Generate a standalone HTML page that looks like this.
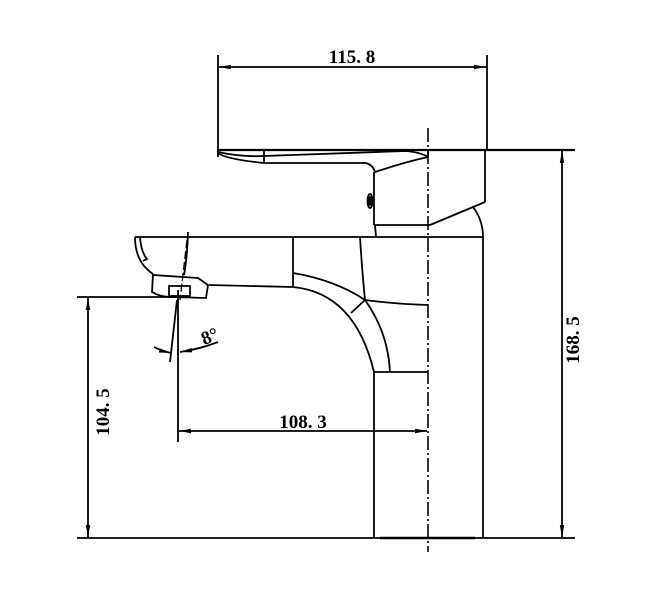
<!DOCTYPE html>
<html><head><meta charset="utf-8"><style>
html,body{margin:0;padding:0;background:#fff;}
svg{display:block;}
text{font-family:"Liberation Serif",serif;font-weight:bold;font-size:19px;fill:#000;}
</style></head><body>
<svg width="665" height="592" viewBox="0 0 665 592" xmlns="http://www.w3.org/2000/svg">
<defs>
<marker id="a" markerWidth="12" markerHeight="6" refX="12" refY="3" orient="auto-start-reverse" markerUnits="userSpaceOnUse">
<path d="M0,0.8 L12,3 L0,5.2 Z" fill="#000"/></marker>
</defs>
<g fill="none" stroke="#000" stroke-width="1.8">
<line x1="218" y1="55" x2="218" y2="157"/>
<line x1="487" y1="55" x2="487" y2="150"/>
<line x1="219" y1="67" x2="486" y2="67" marker-start="url(#a)" marker-end="url(#a)"/>
<line x1="218" y1="150" x2="575" y2="150" stroke-width="2.2"/>
<path d="M218,153 Q225,159 264,163 L366,163"/>
<line x1="264" y1="150" x2="264" y2="163"/>
<path d="M218,155 L218,152 Q240,157 264,156 L405,151 Q420,152 428,157"/>
<path d="M366,163 Q373,165 375,172 Q405,162 428,157 L428,150"/>
<line x1="374" y1="172" x2="374" y2="225"/>
<line x1="374" y1="225" x2="430" y2="225"/>
<line x1="430" y1="225" x2="485" y2="202"/>
<line x1="485" y1="150" x2="485" y2="202"/>
<ellipse cx="370" cy="201" rx="2.5" ry="7"/>
<ellipse cx="370" cy="201" rx="1.2" ry="4" fill="#000"/>
<line x1="375" y1="225" x2="376" y2="237"/>
<path d="M473,207 Q483,220 483,237 L483,538"/>
<line x1="374" y1="372" x2="374" y2="538"/>
<line x1="374" y1="372" x2="428" y2="372"/>
<line x1="135" y1="237" x2="483" y2="237"/>
<path d="M135,237 Q135,262 153,274"/>
<path d="M140,237 Q141,252 147,259 L143,261"/>
<path d="M153,274 L152,292 Q160,297 172,297 L206,298 L208,285 L198,278 L153,275"/>
<rect x="169" y="286" width="21" height="10"/>
<path d="M209,285 L293,287 Q355,293 374,372"/>
<path d="M293,273 Q335,280 365,300 Q388,332 390,372"/>
<line x1="293" y1="237" x2="293" y2="287"/>
<path d="M360,237 Q362,270 365,300"/>
<path d="M365,300 Q395,304 428,305"/>
<line x1="365" y1="300" x2="351" y2="313"/>
<path d="M188,232 Q187,260 184,275"/>
<line x1="77" y1="297" x2="176" y2="297"/>
<line x1="77" y1="538" x2="575" y2="538"/>
<line x1="380" y1="538" x2="475" y2="538" stroke-width="2.4"/>
<line x1="88" y1="298" x2="88" y2="537" marker-start="url(#a)" marker-end="url(#a)"/>
<line x1="178" y1="290" x2="178" y2="442"/>
<line x1="179" y1="431" x2="427" y2="431" marker-start="url(#a)" marker-end="url(#a)"/>
<line x1="562" y1="151" x2="562" y2="537" marker-start="url(#a)" marker-end="url(#a)"/>
<line x1="177" y1="300" x2="170" y2="362"/>
<path d="M154,347 Q162,351 171,353" marker-end="url(#a)"/>
<path d="M218,342 Q200,349 180,352" marker-end="url(#a)"/>
</g>
<line x1="428" y1="128" x2="428" y2="552" stroke="#000" stroke-width="1.6" stroke-dasharray="14,3,2,3"/>
<line x1="187" y1="240" x2="180" y2="300" stroke="#000" stroke-width="1.3" stroke-dasharray="8,3"/>
<text x="352" y="63" text-anchor="middle">115. 8</text>
<text x="303" y="428" text-anchor="middle">108. 3</text>
<text transform="translate(109,412) rotate(-90)" text-anchor="middle">104. 5</text>
<text transform="translate(579,340) rotate(-90)" text-anchor="middle">168. 5</text>
<text transform="translate(212,342) rotate(-22)" text-anchor="middle">8°</text>
</svg>
</body></html>
